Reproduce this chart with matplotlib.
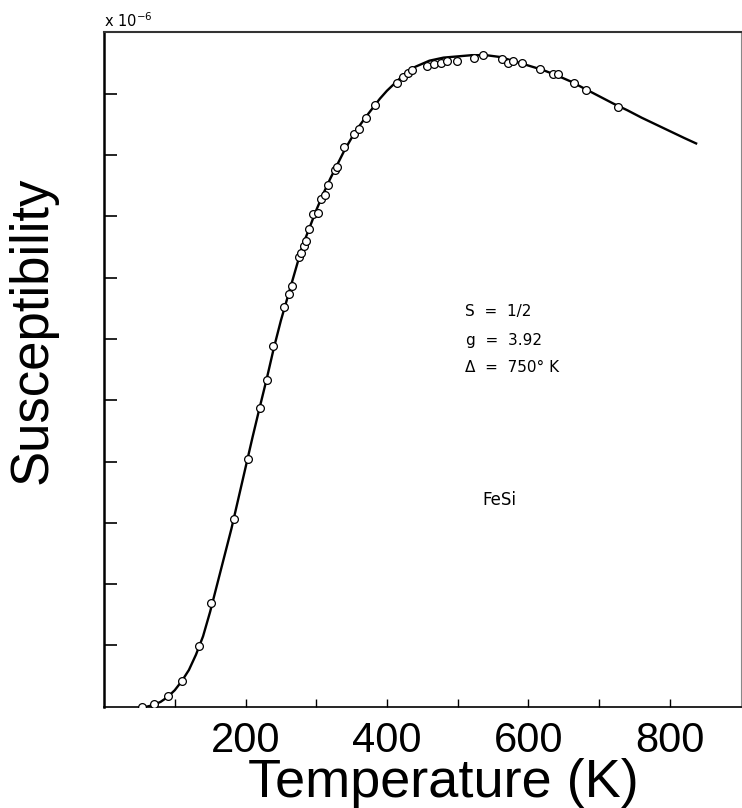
# FeSi magnetic susceptibility vs temperature

import matplotlib.pyplot as plt

# measured points (temperature in K, susceptibility in units of 1e-6)
temp_pts = [53, 71, 91, 110, 134, 151, 184, 203, 220, 230, 239, 254, 261, 266,
            275, 278, 282, 286, 290, 296, 302, 307, 313, 317, 327, 329, 339,
            354, 360, 371, 383, 414, 423, 430, 435, 456, 466, 477, 485, 499,
            523, 536, 562, 571, 578, 591, 616, 635, 642, 664, 682, 726]
chi_pts = [0.0, 0.04, 0.17, 0.42, 0.99, 1.70, 3.07, 4.05, 4.88, 5.33, 5.88,
           6.52, 6.73, 6.86, 7.33, 7.40, 7.51, 7.60, 7.80, 8.04, 8.05, 8.28,
           8.35, 8.52, 8.76, 8.81, 9.13, 9.34, 9.43, 9.60, 9.81, 10.17, 10.27,
           10.34, 10.39, 10.45, 10.48, 10.51, 10.53, 10.53, 10.59, 10.63,
           10.57, 10.50, 10.54, 10.50, 10.40, 10.33, 10.32, 10.17, 10.06, 9.78]

# fitted curve (S = 1/2, g = 3.92, gap 750 K)
temp_fit = [60, 70, 80, 90, 100, 110, 120, 130, 140, 150, 160, 170, 180, 190,
            200, 210, 220, 230, 240, 250, 260, 270, 280, 290, 300, 310, 320,
            330, 340, 350, 360, 370, 380, 390, 400, 420, 440, 460, 480, 500,
            520, 540, 560, 580, 600, 620, 640, 660, 680, 700, 720, 740, 760,
            780, 800, 820, 837]
chi_fit = [0.0, 0.03, 0.08, 0.16, 0.27, 0.42, 0.60, 0.85, 1.15, 1.55, 2.0,
           2.45, 2.9, 3.4, 3.9, 4.4, 4.88, 5.35, 5.85, 6.3, 6.7, 7.1, 7.5, 7.8,
           8.1, 8.37, 8.62, 8.85, 9.08, 9.28, 9.46, 9.62, 9.77, 9.92, 10.05,
           10.27, 10.44, 10.54, 10.59, 10.61, 10.63, 10.63, 10.60, 10.53,
           10.46, 10.39, 10.30, 10.20, 10.08, 9.96, 9.84, 9.73, 9.61, 9.50,
           9.39, 9.28, 9.19]

xticks = [100, 200, 300, 400, 500, 600, 700, 800]
xticklabels = ["", "200", "", "400", "", "600", "", "800"]
yticks = [1, 2, 3, 4, 5, 6, 7, 8, 9, 10]

fig = plt.figure(figsize=(7.42, 8.08), dpi=100)
ax = fig.add_axes([0.1402, 0.1253, 0.858, 0.8345])

ax.plot(temp_fit, chi_fit, color="black", lw=1.7, zorder=2)
ax.plot(temp_pts, chi_pts, "o", ms=5.6, mfc="white", mec="black", mew=0.9,
        zorder=3)

ax.set_xlim(0, 900)
ax.set_ylim(0, 11)

ax.set_xticks(xticks)
ax.set_xticklabels(xticklabels, fontsize=30, family="Liberation Sans")
ax.tick_params(axis="x", direction="in", length=6, width=1, pad=10)
ax.set_yticks(yticks)
ax.set_yticklabels([])
ax.tick_params(axis="y", direction="in", length=9, width=1.2)

ax.spines["left"].set_linewidth(1.8)
ax.spines["bottom"].set_linewidth(1.2)
ax.spines["top"].set_linewidth(1.5)
ax.spines["top"].set_color("#333333")
ax.spines["right"].set_linewidth(0.8)
ax.spines["right"].set_color("#888888")

# annotations from the original figure
ax.text(510, 6.44, "S  =  1/2", fontsize=11, va="center")
ax.text(512, 5.98, "g  =  3.92", fontsize=11, va="center")
ax.text(510, 5.53, "Δ  =  750° K", fontsize=11, va="center")
ax.text(535, 3.37, "FeSi", fontsize=12, va="center")

fig.text(104 / 742, 1 - 27 / 808, r"x 10$^{-6}$", fontsize=10.5,
         va="baseline")

fig.text(33 / 742, 1 - 330 / 808, "Susceptibility", rotation=90,
         fontsize=38, family="Liberation Sans", ha="center", va="center")
fig.text(443 / 742, 1 - 797 / 808, "Temperature (K)", fontsize=39,
         family="Liberation Sans", ha="center", va="baseline")

fig.savefig("out.png", dpi=100)
